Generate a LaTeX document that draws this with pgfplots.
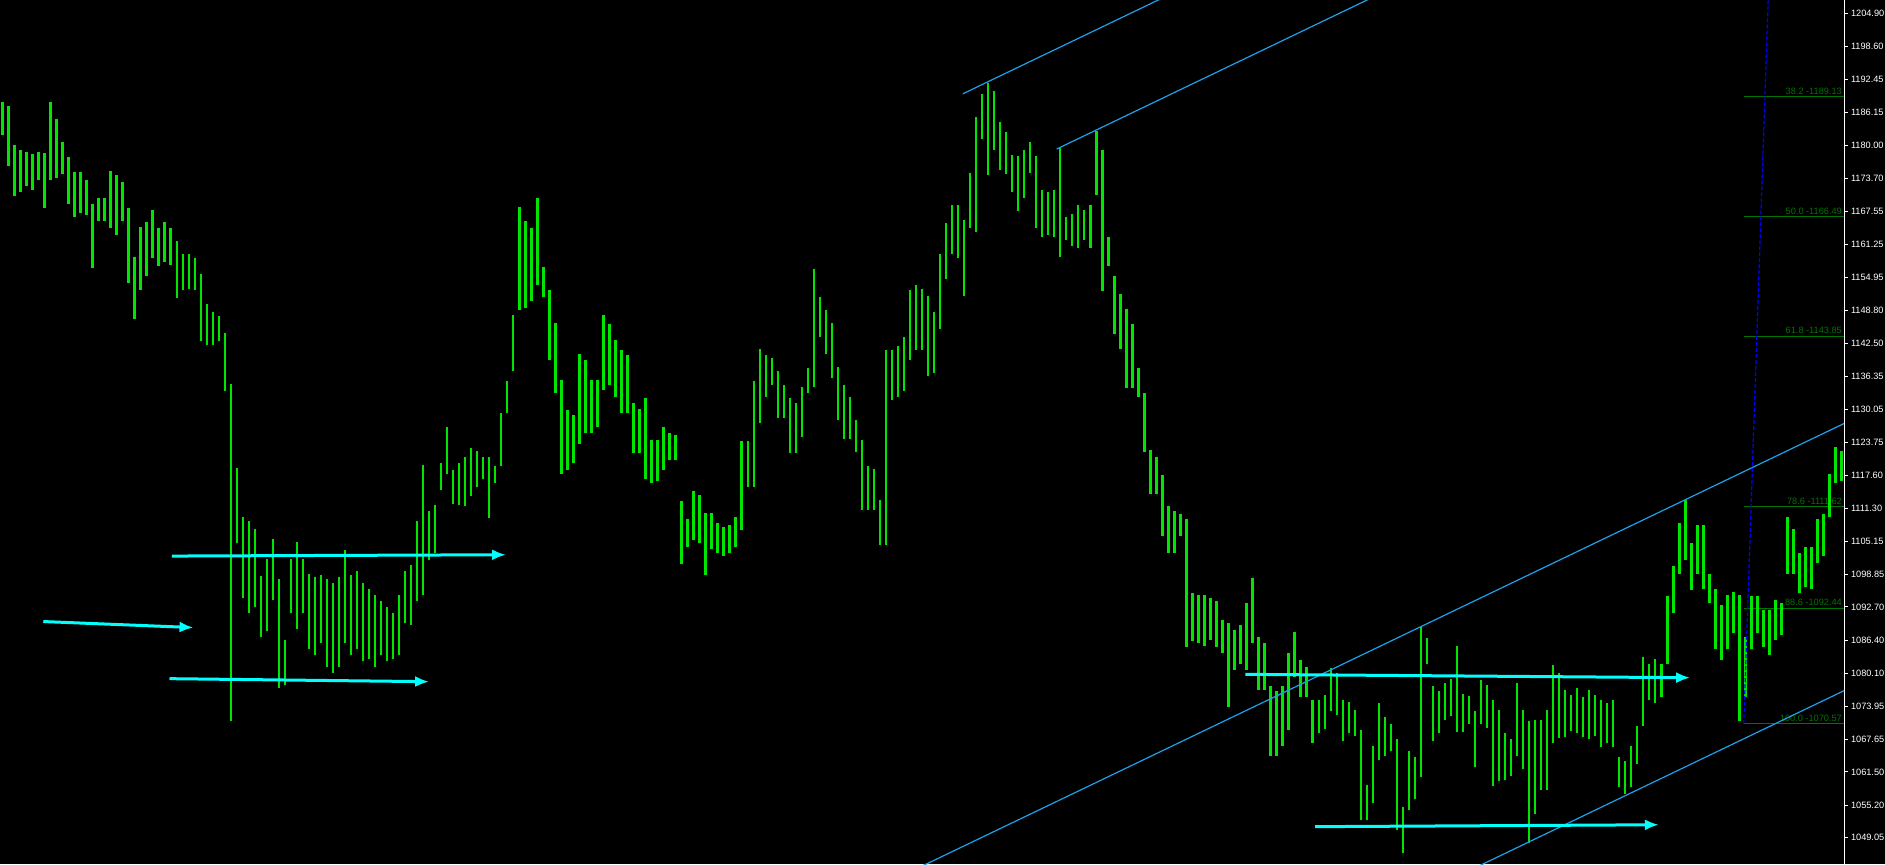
\documentclass[border=0pt]{standalone}
\usepackage{fontspec}
\setmainfont{Liberation Sans}
\usepackage{pgfplots}
\pgfplotsset{compat=1.18}
\usepackage{pgfplotstable}
\usetikzlibrary{arrows.meta}
\definecolor{barg}{RGB}{0,230,0}
\definecolor{fibg}{RGB}{0,115,0}
\definecolor{chan}{RGB}{30,160,235}
\definecolor{arr}{RGB}{0,255,255}
\definecolor{fibblue}{RGB}{0,0,255}

\pgfplotstableread{
x lo hi
2 1182.0 1188.1
7 1176.1 1187.5
12 1170.4 1180.0
17 1171.1 1179.0
22 1172.2 1178.8
27 1171.5 1178.4
32 1173.4 1178.8
37 1168.1 1178.6
42 1173.4 1188.1
47 1173.8 1185.0
52 1174.5 1180.6
57 1168.8 1177.7
62 1166.5 1175.0
67 1167.2 1175.0
72 1166.8 1173.4
77 1156.8 1168.8
82 1165.6 1170.0
87 1165.6 1170.0
92 1164.3 1175.2
97 1163.1 1174.3
102 1165.6 1173.1
107 1154.0 1168.1
112 1147.2 1158.8
117 1152.7 1164.5
122 1155.2 1165.4
127 1158.6 1167.7
132 1157.2 1164.3
137 1157.9 1165.4
142 1157.4 1164.3
147 1151.1 1161.8
152 1152.7 1159.5
157 1152.9 1159.5
162 1152.7 1158.6
167 1142.9 1155.6
172 1142.2 1149.9
177 1142.2 1148.4
182 1142.9 1147.7
187 1133.6 1144.5
192 1071.1 1134.9
197 1104.7 1119.0
202 1094.3 1109.7
207 1091.5 1109.0
212 1092.7 1107.4
217 1087.0 1098.6
222 1088.1 1101.8
227 1094.0 1105.6
232 1077.4 1097.9
237 1077.9 1086.5
242 1091.5 1101.8
247 1088.6 1104.9
252 1091.5 1101.8
257 1084.7 1099.0
262 1083.6 1098.4
267 1085.8 1098.8
272 1081.3 1097.9
277 1080.2 1097.2
282 1081.3 1098.4
287 1085.8 1103.4
292 1083.6 1098.8
297 1084.7 1099.5
302 1082.4 1097.2
307 1082.9 1096.1
312 1081.3 1094.9
317 1083.6 1093.8
322 1082.4 1092.7
327 1082.9 1091.5
332 1083.6 1094.9
337 1089.7 1099.5
342 1089.3 1100.6
347 1093.8 1109.0
352 1094.9 1119.5
357 1101.5 1110.9
362 1102.9 1112.0
367 1114.9 1119.9
372 1117.9 1126.8
377 1112.2 1118.6
382 1112.0 1119.9
387 1111.8 1121.1
392 1113.6 1122.7
397 1115.4 1122.2
402 1116.8 1121.1
407 1109.5 1121.1
412 1116.1 1119.3
417 1119.3 1129.3
422 1129.3 1135.4
427 1137.4 1147.9
432 1148.8 1168.4
437 1149.3 1165.6
442 1150.6 1164.3
447 1153.6 1170.0
452 1151.3 1157.0
457 1139.3 1152.7
462 1133.1 1146.3
467 1117.9 1135.6
472 1118.6 1129.9
477 1119.9 1129.0
482 1123.6 1140.6
487 1125.6 1139.3
492 1125.6 1135.6
497 1126.8 1135.6
502 1133.8 1147.9
507 1134.7 1146.1
512 1132.4 1143.1
517 1129.3 1141.3
522 1129.3 1140.4
527 1121.8 1131.3
532 1121.8 1130.2
537 1116.8 1132.2
542 1116.1 1124.3
547 1116.5 1124.3
552 1118.6 1126.8
557 1120.4 1125.6
562 1120.4 1125.2
567 1100.9 1112.7
572 1104.0 1109.3
577 1105.4 1114.7
582 1104.7 1113.8
587 1098.8 1110.4
592 1103.6 1110.4
597 1102.9 1108.6
602 1102.4 1107.9
607 1102.9 1108.1
612 1104.0 1109.7
617 1107.2 1124.0
622 1115.4 1124.0
627 1115.4 1135.4
632 1127.4 1141.5
637 1132.4 1140.4
642 1134.7 1139.7
647 1128.4 1137.4
652 1128.4 1134.7
657 1121.8 1132.2
662 1121.8 1131.3
667 1124.9 1134.3
672 1133.1 1137.9
677 1134.3 1156.5
682 1143.8 1151.3
687 1140.6 1148.8
692 1135.9 1146.3
697 1128.1 1138.1
702 1124.5 1134.7
707 1124.5 1132.4
712 1122.0 1128.1
717 1111.1 1124.3
722 1111.1 1119.3
727 1111.1 1118.8
732 1104.5 1112.9
737 1104.5 1141.3
742 1131.8 1141.3
747 1132.4 1142.0
752 1133.6 1143.8
757 1139.3 1152.7
762 1141.3 1153.6
767 1141.3 1152.9
772 1136.3 1151.5
777 1137.0 1148.4
782 1145.2 1159.5
787 1154.7 1165.2
792 1159.5 1168.6
797 1158.6 1168.6
802 1151.5 1165.9
807 1164.3 1174.7
812 1163.6 1185.4
817 1181.1 1189.7
822 1174.3 1191.8
827 1179.0 1190.2
832 1175.4 1184.3
837 1174.5 1182.5
842 1171.1 1178.1
847 1167.5 1177.9
852 1170.0 1179.0
857 1174.7 1180.6
862 1164.3 1177.9
867 1162.7 1171.5
872 1163.1 1171.1
877 1162.7 1171.5
882 1158.8 1179.5
887 1162.0 1166.5
892 1160.9 1167.0
897 1160.6 1168.6
902 1162.0 1167.7
907 1160.6 1168.6
912 1170.6 1182.7
917 1152.4 1179.0
922 1157.2 1162.7
927 1144.3 1155.2
932 1141.5 1151.8
937 1134.0 1149.0
942 1134.0 1146.1
947 1132.4 1137.9
952 1122.0 1133.1
957 1114.0 1122.4
962 1114.0 1121.1
967 1106.1 1117.7
972 1102.9 1111.8
977 1102.9 1110.9
982 1106.1 1110.2
987 1085.2 1109.3
992 1086.3 1095.4
997 1085.8 1094.9
1002 1085.4 1094.9
1007 1086.5 1094.3
1012 1085.2 1093.8
1017 1084.0 1090.2
1022 1073.8 1089.7
1027 1080.8 1088.4
1032 1082.0 1089.3
1037 1080.8 1093.4
1042 1085.8 1098.1
1047 1077.0 1087.0
1052 1077.0 1085.8
1057 1064.5 1077.7
1062 1064.5 1076.8
1067 1066.5 1077.7
1072 1069.5 1084.0
1077 1079.5 1087.9
1082 1075.6 1082.7
1087 1075.6 1081.3
1092 1067.0 1075.2
1097 1068.8 1075.2
1102 1069.7 1076.1
1107 1073.1 1081.1
1112 1072.2 1080.2
1117 1067.4 1075.2
1122 1068.8 1074.7
1127 1068.3 1073.3
1132 1052.4 1069.5
1137 1052.4 1059.0
1142 1055.6 1066.5
1147 1063.8 1074.5
1152 1064.5 1071.8
1157 1065.4 1070.6
1162 1050.6 1067.7
1167 1046.1 1054.9
1172 1054.3 1065.4
1177 1056.3 1064.3
1182 1060.6 1089.0
1187 1082.0 1086.8
1192 1067.4 1077.7
1197 1068.8 1076.8
1202 1071.3 1078.3
1207 1072.0 1079.0
1212 1069.0 1085.4
1217 1069.0 1076.3
1222 1070.6 1075.8
1227 1062.4 1073.1
1232 1070.6 1078.8
1237 1069.9 1077.9
1242 1058.8 1075.2
1247 1059.7 1073.3
1252 1059.9 1068.8
1257 1060.8 1067.7
1262 1064.5 1078.3
1267 1062.0 1073.3
1272 1048.1 1071.1
1277 1053.6 1071.3
1282 1058.1 1071.3
1287 1058.1 1073.3
1292 1067.0 1081.8
1297 1067.9 1080.2
1302 1068.1 1077.0
1307 1069.3 1076.1
1312 1068.8 1077.4
1317 1068.1 1075.6
1322 1067.7 1077.0
1327 1068.3 1076.1
1332 1066.3 1075.2
1337 1067.0 1074.5
1342 1066.3 1075.2
1347 1058.6 1064.3
1352 1057.4 1063.6
1357 1058.6 1066.5
1362 1063.1 1070.2
1367 1070.2 1083.3
1372 1075.2 1082.0
1377 1074.5 1082.9
1382 1075.6 1082.0
1387 1082.0 1094.7
1392 1091.5 1100.4
1397 1099.0 1108.6
1402 1101.5 1112.9
1407 1095.9 1104.7
1412 1099.0 1108.1
1417 1096.1 1108.1
1422 1093.4 1099.0
1427 1084.7 1096.1
1432 1082.7 1093.1
1437 1084.7 1094.9
1442 1087.7 1095.6
1447 1071.1 1094.9
1452 1075.6 1087.0
1457 1084.7 1094.7
1462 1087.7 1094.7
1467 1085.2 1092.2
1472 1083.6 1092.2
1477 1086.5 1094.0
1482 1087.4 1093.4
1487 1099.0 1109.7
1492 1099.0 1107.4
1497 1095.4 1102.9
1502 1096.5 1104.0
1507 1096.1 1104.0
1512 1101.1 1109.3
1517 1102.4 1110.2
1522 1109.7 1117.9
1527 1116.1 1122.9
1532 1116.5 1122.2
}\bars

\begin{document}
\begin{tikzpicture}
\fill[black] (0,0) rectangle (942.5pt,432pt);
\path[use as bounding box] (0,0) rectangle (942.5pt,432pt);
\begin{axis}[
  at={(0,0)}, anchor=south west,
  width=922pt, height=432pt, scale only axis,
  xmin=0, xmax=1534, ymin=1044.10, ymax=1207.45,
  axis x line=none, axis y line=right,
  y axis line style={-, white, line width=0.5pt},
  xtick=\empty,
  ytick={1204.90,1198.60,1192.45,1186.15,1180.00,1173.70,1167.55,1161.25,1154.95,1148.80,1142.50,1136.35,1130.05,1123.75,1117.60,1111.30,1105.15,1098.85,1092.70,1086.40,1080.10,1073.95,1067.65,1061.50,1055.20,1049.05},
  yticklabels={1204.90,1198.60,1192.45,1186.15,1180.00,1173.70,1167.55,1161.25,1154.95,1148.80,1142.50,1136.35,1130.05,1123.75,1117.60,1111.30,1105.15,1098.85,1092.70,1086.40,1080.10,1073.95,1067.65,1061.50,1055.20,1049.05},
  tick align=outside, major tick length=2pt,
  ytick style={white, line width=0.5pt},
  yticklabel style={font=\fontsize{4.6}{5}\selectfont, text=white, anchor=west, inner sep=0pt, xshift=1.3pt},
  clip=true,
]
% Fibonacci levels
\addplot[fibg, line width=0.5pt] coordinates {(1450.6,1189.13) (1534,1189.13)};
\addplot[fibg, line width=0.5pt] coordinates {(1450.6,1166.49) (1534,1166.49)};
\addplot[fibg, line width=0.5pt] coordinates {(1450.6,1143.85) (1534,1143.85)};
\addplot[fibg, line width=0.5pt] coordinates {(1450.6,1111.62) (1534,1111.62)};
\addplot[fibg, line width=0.5pt] coordinates {(1450.6,1092.44) (1534,1092.44)};
\addplot[fibg, line width=0.5pt] coordinates {(1450.6,1070.57) (1534,1070.57)};
\node[anchor=south east, inner sep=0pt, text=fibg, font=\fontsize{4.6}{5}\selectfont] at (axis cs:1532.5,1189.53) {38.2 -1189.13};
\node[anchor=south east, inner sep=0pt, text=fibg, font=\fontsize{4.6}{5}\selectfont] at (axis cs:1532.5,1166.89) {50.0 -1166.49};
\node[anchor=south east, inner sep=0pt, text=fibg, font=\fontsize{4.6}{5}\selectfont] at (axis cs:1532.5,1144.25) {61.8 -1143.85};
\node[anchor=south east, inner sep=0pt, text=fibg, font=\fontsize{4.6}{5}\selectfont] at (axis cs:1532.5,1112.02) {78.6 -1111.62};
\node[anchor=south east, inner sep=0pt, text=fibg, font=\fontsize{4.6}{5}\selectfont] at (axis cs:1532.5,1092.84) {88.6 -1092.44};
\node[anchor=south east, inner sep=0pt, text=fibg, font=\fontsize{4.6}{5}\selectfont] at (axis cs:1532.5,1070.97) {100.0 -1070.57};
% price bars (high-low ranges)
\addplot[barg, only marks, mark=*, mark size=0pt, mark options={draw=none, fill=none},
  error bars/.cd, y dir=plus, y explicit, error mark=none,
  error bar style={line width=1.2pt, barg}]
  table[x=x, y=lo, y error expr=\thisrow{hi}-\thisrow{lo}] {\bars};
% channel lines
\addplot[chan, line width=0.6pt] coordinates {(801,1189.72) (975,1208.70)};
\addplot[chan, line width=0.6pt] coordinates {(879,1179.27) (1150,1208.84)};
\addplot[chan, line width=0.6pt] coordinates {(760,1042.94) (1534,1127.38)};
\addplot[chan, line width=0.6pt] coordinates {(1220,1042.61) (1534,1076.87)};
% fibo trend line
\addplot[fibblue, line width=0.6pt, dash pattern=on 2pt off 1pt] coordinates {(1450.6,1070.57) (1471,1208)};
% thick arrows
\addplot[arr, line width=1.5pt, -{Latex[length=7pt,width=5.5pt]}] coordinates {(36,1089.94) (161,1088.80)};
\addplot[arr, line width=1.5pt, -{Latex[length=7pt,width=5.5pt]}] coordinates {(143,1102.32) (421,1102.57)};
\addplot[arr, line width=1.5pt, -{Latex[length=7pt,width=5.5pt]}] coordinates {(141,1079.14) (357,1078.57)};
\addplot[arr, line width=1.5pt, -{Latex[length=7pt,width=5.5pt]}] coordinates {(1036,1079.96) (1406,1079.32)};
\addplot[arr, line width=1.5pt, -{Latex[length=7pt,width=5.5pt]}] coordinates {(1094,1051.16) (1380,1051.52)};
\end{axis}
\end{tikzpicture}
\end{document}
